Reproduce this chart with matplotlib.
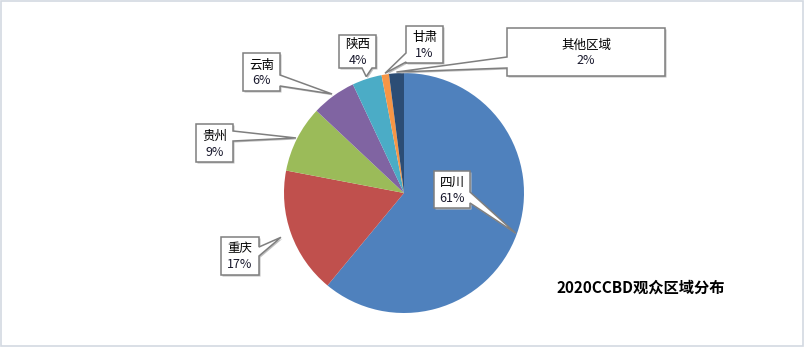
import matplotlib
matplotlib.use("Agg")
import matplotlib.pyplot as plt
from matplotlib.patches import Polygon, Rectangle
import numpy as np

plt.rcParams['font.family'] = ['Noto Sans CJK SC', 'DejaVu Sans']

# data
regions = ['四川', '重庆', '贵州', '云南', '陕西', '甘肃', '其他区域']
shares = [61, 17, 9, 6, 4, 1, 2]
colours = ['#4F81BD', '#C0504D', '#9BBB59', '#8064A2', '#4BACC6', '#F79646', '#2C4D75']
title = '2020CCBD观众区域分布'

# callout boxes in pixel coords (x0, y0, x1, y1), side of pointer, base span along side
boxes = [
    ((434, 171, 470, 208), 'right', (192, 203)),
    ((221, 237, 259, 275), 'right', (247, 256)),
    ((196, 124, 233, 162), 'right', (131, 141)),
    ((243, 53, 280, 91), 'right', (75, 86)),
    ((339, 35, 376, 68), 'bottom', (362, 372)),
    ((406, 26, 443, 63), 'left', (53, 62)),
    ((507, 28, 665, 76), 'left', (57, 68)),
]
tip_r = [0.99, 1.09, 1.01, 1.02, 1.02, 1.01, 1.01]

W, H = 805, 348
fig = plt.figure(figsize=(W / 100, H / 100), dpi=100)
ax = fig.add_axes([0, 0, 1, 1])
ax.set_xlim(0, W)
ax.set_ylim(0, H)
ax.axis('off')

def py(y):
    return H - y

cx, cy, R = 404, py(193), 120
wedges, _ = ax.pie(shares, colors=colours, startangle=90, counterclock=False,
                   center=(cx, cy), radius=R, frame=True,
                   wedgeprops=dict(linewidth=0))
ax.set_xlim(0, W)
ax.set_ylim(0, H)
ax.set_aspect('auto')
ax.axis('off')

# chart frame
ax.add_patch(Rectangle((1, py(346)), 802, 345, fill=False, edgecolor='#D3D9E2', lw=1.2))

for i, w in enumerate(wedges):
    mid = np.deg2rad((w.theta1 + w.theta2) / 2)
    tx = cx + R * tip_r[i] * np.cos(mid)
    ty = cy + R * tip_r[i] * np.sin(mid)
    (x0, y0, x1, y1), side, (b0, b1) = boxes[i]
    if side == 'right':
        pts = [(x0, y0), (x1, y0), (x1, b0), (tx, py(ty)), (x1, b1), (x1, y1), (x0, y1)]
    elif side == 'left':
        pts = [(x0, y0), (x1, y0), (x1, y1), (x0, y1), (x0, b1), (tx, py(ty)), (x0, b0)]
    else:
        pts = [(x0, y0), (x1, y0), (x1, y1), (b1, y1), (tx, py(ty)), (b0, y1), (x0, y1)]
    pts = [(p[0], py(p[1])) if not (p[0] == tx) else (p[0], ty) for p in pts]
    # shadow
    sh = [(p[0] + 1.5, p[1] - 1.5) for p in pts]
    ax.add_patch(Polygon(sh, closed=True, facecolor='#BFBFBF', edgecolor='none', zorder=4))
    ax.add_patch(Polygon(pts, closed=True, facecolor='white', edgecolor='#7F7F7F',
                         lw=1.1, zorder=5))
    xm = (x0 + x1) / 2
    ym = (y0 + y1) / 2
    ax.text(xm, py(ym - 7), regions[i], ha='center', va='center', fontsize=9,
            color='black', zorder=6)
    ax.text(xm, py(ym + 9), str(shares[i]) + '%', ha='center', va='center', fontsize=9,
            color='#1A1A2E', zorder=6)

ax.text(641, py(288), title, ha='center', va='center', fontsize=11,
        fontweight='bold', color='black')

fig.savefig('out.png', dpi=100, facecolor='white')
